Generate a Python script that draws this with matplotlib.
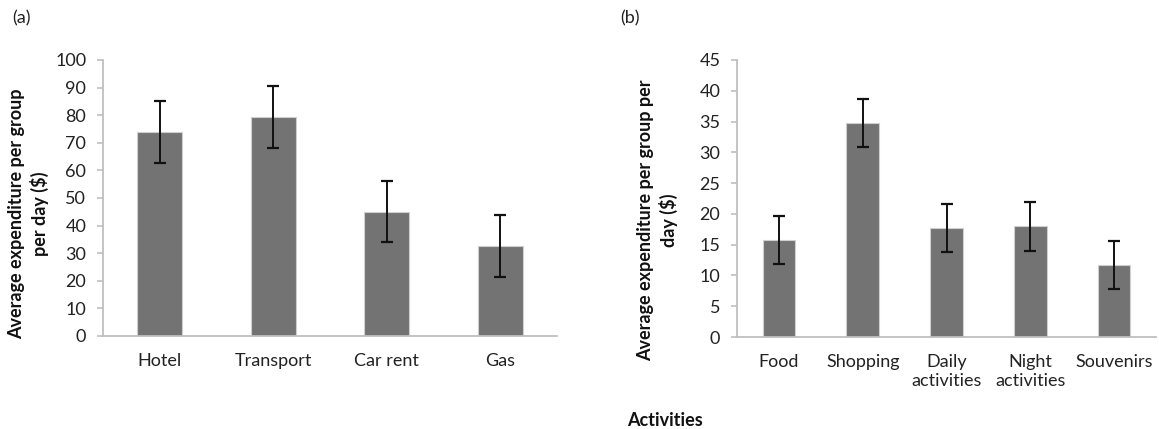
import matplotlib
matplotlib.use("Agg")
import matplotlib.pyplot as plt
import numpy as np

plt.rcParams['font.family'] = ['Lato', 'DejaVu Sans']

# Panel (a)
cats_a = ["Hotel", "Transport", "Car rent", "Gas"]
vals_a = [74.0, 79.3, 45.0, 32.6]
errs_a = [11.3, 11.2, 11.1, 11.2]
yticks_a = list(range(0, 101, 10))

# Panel (b)
cats_b = ["Food", "Shopping", "Daily\nactivities", "Night\nactivities", "Souvenirs"]
vals_b = [15.7, 34.7, 17.7, 18.0, 11.7]
errs_b = [3.9, 3.9, 3.95, 3.95, 3.95]
yticks_b = list(range(0, 46, 5))

W, H = 1159, 429
fig = plt.figure(figsize=(W / 100, H / 100), dpi=100)

bar_color = "#737373"
edge_color = "#cfcfcf"
spine_color = "#bfbfbf"

def style(ax, yticks, ylabel, lab_xy):
    for s in ["top", "right"]:
        ax.spines[s].set_visible(False)
    for s in ["left", "bottom"]:
        ax.spines[s].set_color(spine_color)
        ax.spines[s].set_linewidth(1.3)
    ax.set_yticks(yticks)
    ax.set_ylim(yticks[0], yticks[-1])
    ax.tick_params(axis="y", length=4, width=1.2, color=spine_color, labelsize=13,
                   pad=8, labelcolor="#222222")
    ax.tick_params(axis="x", length=0, labelsize=13, pad=12, labelcolor="#222222")
    ax.set_ylabel(ylabel, fontsize=13, fontweight="bold", linespacing=1.3,
                  color="#111111")
    ax.yaxis.set_label_coords(*lab_xy)

ax1 = fig.add_axes([103 / W, 1 - 336 / H, (557 - 103) / W, (336 - 60) / H])
x1 = np.arange(len(cats_a))
ax1.bar(x1, vals_a, width=0.40, color=bar_color, edgecolor=edge_color, linewidth=0.8,
        yerr=errs_a, error_kw=dict(ecolor="#111111", elinewidth=1.4, capsize=4.2, capthick=1.6))
ax1.set_xlim(-0.5, len(cats_a) - 0.5)
ax1.set_xticks(x1)
ax1.set_xticklabels(cats_a)
style(ax1, yticks_a, "Average expenditure per group\nper day ($)", (-0.119, 0.442))

ax2 = fig.add_axes([737 / W, 1 - 337 / H, (1156 - 737) / W, (337 - 60) / H])
x2 = np.arange(len(cats_b))
ax2.bar(x2, vals_b, width=0.39, color=bar_color, edgecolor=edge_color, linewidth=0.8,
        yerr=errs_b, error_kw=dict(ecolor="#111111", elinewidth=1.4, capsize=4.2, capthick=1.6))
ax2.set_xlim(-0.5, len(cats_b) - 0.5)
ax2.set_xticks(x2)
ax2.set_xticklabels(cats_b, linespacing=1.25)
style(ax2, yticks_b, "Average expenditure per group per\nday ($)", (-0.141, 0.422))

fig.text(12 / W, 1 - 18 / H, "(a)", fontsize=13, va="center", ha="left", color="#222222")
fig.text(620 / W, 1 - 18 / H, "(b)", fontsize=13, va="center", ha="left", color="#222222")
fig.text(665 / W, 1 - 420 / H, "Activities", fontsize=13, fontweight="bold", va="center",
         ha="center", color="#111111")

fig.savefig("out.png", dpi=100)
